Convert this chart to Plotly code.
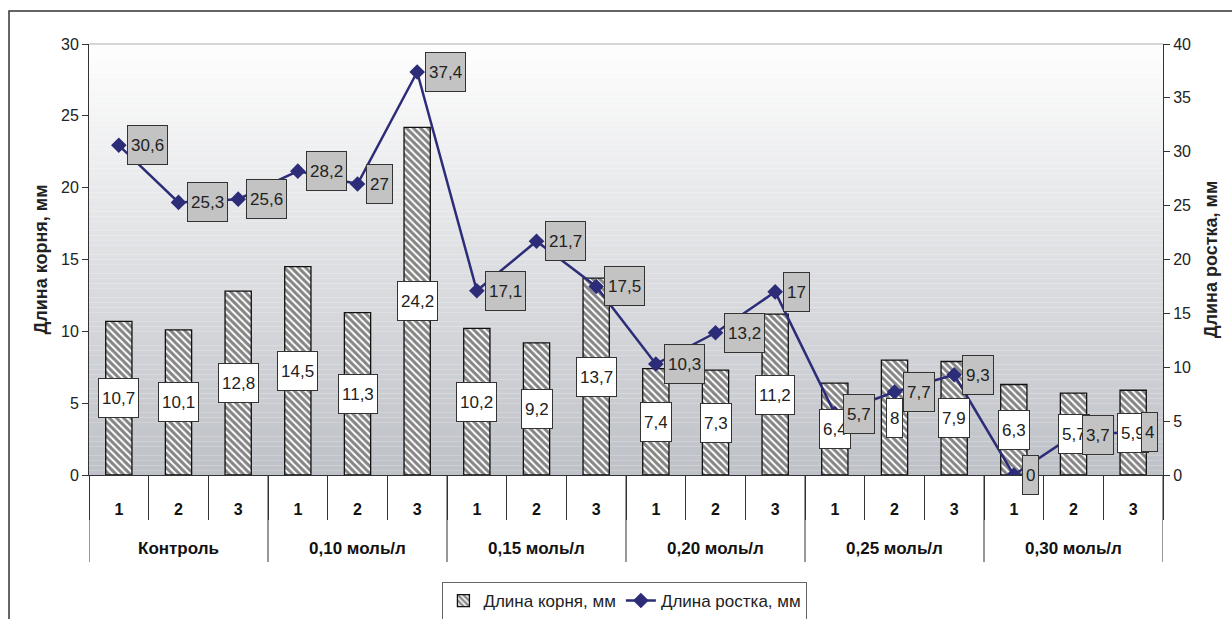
import plotly.graph_objects as go
import numpy as np

groups = ["Контроль", "0,10 моль/л", "0,15 моль/л", "0,20 моль/л", "0,25 моль/л", "0,30 моль/л"]
subs = ["1", "2", "3"]
root_len = [10.7, 10.1, 12.8, 14.5, 11.3, 24.2, 10.2, 9.2, 13.7, 7.4, 7.3, 11.2, 6.4, 8, 7.9, 6.3, 5.7, 5.9]
shoot_len = [30.6, 25.3, 25.6, 28.2, 27, 37.4, 17.1, 21.7, 17.5, 10.3, 13.2, 17, 5.7, 7.7, 9.3, 0, 3.7, 4]
root_name = "Длина корня, мм"
shoot_name = "Длина ростка, мм"

cats = [f"{g} | {s}" for g in groups for s in subs]
sub_text = [s for _ in groups for s in subs]

FONT = "Liberation Sans, Arial"
W, H = 1074.0, 431.0

def fmt(v):
    return f"{v:g}".replace(".", ",")

fig = go.Figure()
fig.add_trace(go.Bar(
    x=cats, y=root_len, name=root_name,
    marker=dict(color="white", line=dict(color="#111", width=1.3),
                pattern=dict(shape="\\", fgcolor="#0a0a0a", bgcolor="white", size=5, solidity=0.6)),
    yaxis="y",
))
fig.add_trace(go.Scatter(
    x=cats, y=shoot_len, name=shoot_name, mode="lines+markers",
    line=dict(color="#2d2c78", width=2.5),
    marker=dict(symbol="diamond", size=12, color="#2d2c78"),
    yaxis="y2",
))

ann = []
for c, v in zip(cats, root_len):
    ann.append(dict(x=c, y=v / 2, xref="x", yref="y", text=fmt(v), showarrow=False,
                    font=dict(family=FONT, size=17, color="#222"),
                    bgcolor="white", bordercolor="#333", borderwidth=1, borderpad=3, height=32))
for c, v in zip(cats, shoot_len):
    ann.append(dict(x=c, y=v, xref="x", yref="y2", text=fmt(v), showarrow=False,
                    xanchor="left", xshift=8,
                    font=dict(family=FONT, size=17, color="#222"),
                    bgcolor="#c3c3c3", bordercolor="#333", borderwidth=1, borderpad=3, height=32))
# group labels (second level of the category axis)
for gi, g in enumerate(groups):
    ann.append(dict(x=cats[gi * len(subs) + 1], y=(475 - 548) / H, xref="x", yref="paper",
                    text=g, showarrow=False, yanchor="middle",
                    font=dict(family=FONT, size=17, color="#111", weight="bold")))

# gradient background bands
shapes = []
n = 90
top = np.array([255, 255, 255])
bot = np.array([190, 193, 199])
for k in range(n):
    t = (k + 0.5) / n
    c = top + (bot - top) * t
    shapes.append(dict(type="rect", xref="paper", yref="paper", x0=0, x1=1,
                       y0=1 - k / n, y1=1 - (k + 1) / n, line=dict(width=0),
                       fillcolor=f"rgb({int(c[0])},{int(c[1])},{int(c[2])})", layer="below"))
# top edge of plot area
shapes.append(dict(type="line", xref="paper", yref="paper", x0=0, x1=1, y0=1, y1=1,
                   line=dict(color="#c8c8c8", width=1.5)))
# outer frame
shapes.append(dict(type="rect", xref="paper", yref="paper",
                   x0=(9 - 89) / W, x1=(1245 - 89) / W, y0=(475 - 640) / H, y1=(475 - 11) / H,
                   line=dict(color="#333", width=1.5), fillcolor="rgba(0,0,0,0)"))
# group dividers in the category table
for gi in range(len(groups) + 1):
    xb = gi * len(subs) - 0.5
    shapes.append(dict(type="line", xref="x", yref="paper", x0=xb, x1=xb,
                       y0=(475 - 562) / H, y1=0, line=dict(color="#333", width=1)))

fig.update_layout(
    width=1232, height=619,
    margin=dict(l=89, r=69, t=44, b=144, autoexpand=False),
    paper_bgcolor="white", plot_bgcolor="rgba(0,0,0,0)",
    font=dict(family=FONT, size=14, color="#222"),
    bargap=0.56,
    showlegend=True,
    legend=dict(orientation="h", x=0.499, xanchor="center", y=(475 - 582) / H, yanchor="top",
                bgcolor="white", bordercolor="#666", borderwidth=1,
                font=dict(family=FONT, size=17, color="#222"), traceorder="normal"),
    xaxis=dict(type="category", range=[-0.5, len(cats) - 0.5], showline=True, linecolor="#333",
               linewidth=1, tickmode="array", tickvals=cats, ticktext=sub_text,
               ticks="outside", tickson="boundaries", ticklen=44, tickcolor="#333",
               ticklabelstandoff=20,
               tickfont=dict(family=FONT, size=16, color="#111", weight="bold"),
               automargin=False, showgrid=False),
    yaxis=dict(range=[0, 30], dtick=5, showline=True, linecolor="#333", ticks="outside",
               ticklen=6, tickcolor="#333", showgrid=False, zeroline=False,
               tickfont=dict(size=16), automargin=False,
               title=dict(text=root_name, font=dict(size=18, weight="bold"), standoff=8)),
    yaxis2=dict(range=[0, 40], dtick=5, overlaying="y", side="right", showline=True,
                linecolor="#333", ticks="outside", ticklen=6, tickcolor="#333",
                showgrid=False, zeroline=False, tickfont=dict(size=16), automargin=False,
                title=dict(text=shoot_name, font=dict(size=18, weight="bold"), standoff=14)),
    annotations=ann,
    shapes=shapes,
)

fig.write_html("out.html")
